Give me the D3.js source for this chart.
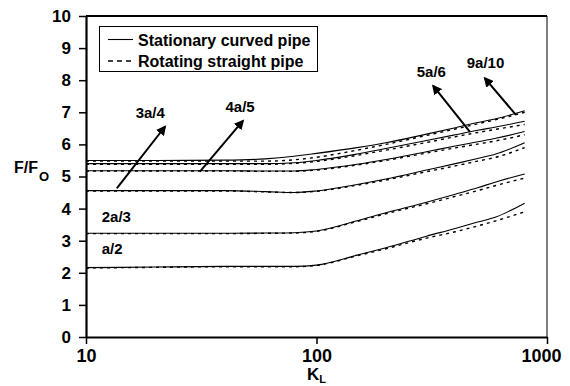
<!DOCTYPE html>
<html>
<head>
<meta charset="utf-8">
<script src="https://cdn.jsdelivr.net/npm/d3@7"></script>
<style>
  body { margin: 0; background: #fff; }
  svg { display: block; font-family: Arial, "Liberation Sans", sans-serif; }
  .tick text { font-weight: bold; fill: #000; }
</style>
</head>
<body>
<svg id="chart" width="570" height="386"></svg>
<script>
// Friction ratio F/Fo against K_L for several a-ratios
const kValues = [10, 20, 40, 60, 80, 100, 150, 200, 300, 400, 500, 600, 800];

const ratioNames = ["a/2", "2a/3", "3a/4", "4a/5", "5a/6", "9a/10"];

// Stationary curved pipe (solid)
const curvedA2   = [2.16, 2.18, 2.20, 2.20, 2.20, 2.24, 2.55, 2.78, 3.14, 3.38, 3.58, 3.74, 4.17];
const curved2A3  = [3.23, 3.23, 3.23, 3.24, 3.25, 3.30, 3.62, 3.87, 4.20, 4.45, 4.65, 4.83, 5.08];
const curved3A4  = [4.56, 4.56, 4.56, 4.53, 4.50, 4.55, 4.75, 4.92, 5.20, 5.40, 5.56, 5.70, 6.05];
const curved4A5  = [5.18, 5.18, 5.18, 5.17, 5.17, 5.22, 5.38, 5.53, 5.77, 5.95, 6.08, 6.19, 6.40];
const curved5A6  = [5.40, 5.40, 5.40, 5.40, 5.43, 5.50, 5.70, 5.87, 6.12, 6.30, 6.44, 6.54, 6.72];
const curved9A10 = [5.50, 5.50, 5.51, 5.55, 5.63, 5.72, 5.90, 6.05, 6.32, 6.52, 6.68, 6.80, 7.05];

// Rotating straight pipe (dashed)
const rotatingA2   = [2.15, 2.17, 2.19, 2.19, 2.19, 2.23, 2.53, 2.75, 3.08, 3.28, 3.46, 3.62, 3.90];
const rotating2A3  = [3.22, 3.22, 3.22, 3.23, 3.24, 3.29, 3.60, 3.84, 4.15, 4.38, 4.56, 4.72, 4.95];
const rotating3A4  = [4.55, 4.55, 4.55, 4.52, 4.50, 4.54, 4.73, 4.89, 5.15, 5.33, 5.48, 5.60, 5.90];
const rotating4A5  = [5.17, 5.17, 5.17, 5.16, 5.16, 5.20, 5.36, 5.50, 5.73, 5.89, 6.01, 6.11, 6.30];
const rotating5A6  = [5.38, 5.38, 5.38, 5.38, 5.41, 5.47, 5.66, 5.82, 6.06, 6.24, 6.37, 6.47, 6.62];
const rotating9A10 = [5.48, 5.48, 5.48, 5.48, 5.52, 5.60, 5.82, 6.00, 6.28, 6.48, 6.64, 6.77, 7.00];

const curvedSeries   = [curvedA2, curved2A3, curved3A4, curved4A5, curved5A6, curved9A10];
const rotatingSeries = [rotatingA2, rotating2A3, rotating3A4, rotating4A5, rotating5A6, rotating9A10];

const xTicks = [10, 100, 1000];
const yTicks = [0, 1, 2, 3, 4, 5, 6, 7, 8, 9, 10];

const legendLabels = ["Stationary curved pipe", "Rotating straight pipe"];

// Plain curve labels, in data units [K, F/Fo]
const plainLabels = [
  { text: "2a/3", k: 11.7, v: 3.59 },
  { text: "a/2",  k: 11.7, v: 2.58 }
];
// Labels with pointer arrows, in data units
const arrowLabels = [
  { text: "3a/4",  k: 19.0, v: 6.81, from: [13.6, 4.63], to: [22.0, 6.55] },
  { text: "4a/5",  k: 46.6, v: 7.01, from: [31.2, 5.15], to: [47.9, 6.73] },
  { text: "5a/6",  k: 315,  v: 8.11, from: [463, 6.39],  to: [321, 7.82] },
  { text: "9a/10", k: 541,  v: 8.37, from: [733, 6.92],  to: [538, 8.06] }
];

const svg = d3.select("#chart");
const margin = { left: 86, right: 23, top: 16, bottom: 49 };
const W = 570, H = 386;

const x = d3.scaleLog().domain([10, 1000]).range([margin.left, W - margin.right]);
const y = d3.scaleLinear().domain([0, 10]).range([H - margin.bottom, margin.top]);

// frame: thin right edge, heavy top
svg.append("line").attr("x1", x(1000)).attr("x2", x(1000))
  .attr("y1", y(10)).attr("y2", y(0)).attr("stroke", "#000").attr("stroke-width", 1);
svg.append("line").attr("x1", x(10)).attr("x2", x(1000))
  .attr("y1", y(10)).attr("y2", y(10)).attr("stroke", "#000").attr("stroke-width", 2);

// axes
const xAxis = svg.append("g").attr("transform", `translate(0,${y(0)})`)
  .call(d3.axisBottom(x).tickValues(xTicks).tickFormat(d3.format("d"))
    .tickSize(7).tickSizeOuter(0).tickPadding(5));
const yAxis = svg.append("g").attr("transform", `translate(${x(10)},0)`)
  .call(d3.axisLeft(y).tickValues(yTicks).tickFormat(d3.format("d"))
    .tickSize(7).tickSizeOuter(0).tickPadding(8));
[xAxis, yAxis].forEach(g => {
  g.select(".domain").attr("stroke", "#000").attr("stroke-width", 2.2);
  g.selectAll(".tick line").attr("stroke", "#000").attr("stroke-width", 1.5);
});
xAxis.selectAll(".tick text").attr("font-size", 18);
yAxis.selectAll(".tick text").attr("font-size", 17);
xAxis.selectAll(".tick text").filter(d => d === 1000).attr("dx", -6);

// curves
const line = d3.line()
  .x((d, i) => x(kValues[i]))
  .y(d => y(d))
  .curve(d3.curveMonotoneX);

const plot = svg.append("g");
rotatingSeries.forEach(vals => {
  plot.append("path").attr("d", line(vals))
    .attr("fill", "none").attr("stroke", "#000")
    .attr("stroke-width", 1.4).attr("stroke-dasharray", "3,4");
});
curvedSeries.forEach(vals => {
  plot.append("path").attr("d", line(vals))
    .attr("fill", "none").attr("stroke", "#000").attr("stroke-width", 1.1);
});

// legend
const lg = svg.append("g");
lg.append("rect").attr("x", 99.5).attr("y", 26.5).attr("width", 218).attr("height", 45)
  .attr("fill", "#fff").attr("stroke", "#000").attr("stroke-width", 1);
legendLabels.forEach((t, i) => {
  const ly = 39.5 + i * 21.5;
  lg.append("line").attr("x1", 108).attr("x2", 133).attr("y1", ly).attr("y2", ly)
    .attr("stroke", "#000").attr("stroke-width", i === 0 ? 1.1 : 1.6)
    .attr("stroke-dasharray", i === 0 ? null : "5,4");
  lg.append("text").attr("x", 138).attr("y", ly + 6)
    .attr("font-size", 16).attr("font-weight", "bold").text(t);
});

// arrow head
svg.append("defs").append("marker")
  .attr("id", "head").attr("viewBox", "0 0 10 10").attr("refX", 8).attr("refY", 5)
  .attr("markerWidth", 5).attr("markerHeight", 5).attr("orient", "auto")
  .append("path").attr("d", "M0,0 L10,5 L0,10 z").attr("fill", "#000");

arrowLabels.forEach(a => {
  svg.append("line")
    .attr("x1", x(a.from[0])).attr("y1", y(a.from[1]))
    .attr("x2", x(a.to[0])).attr("y2", y(a.to[1]))
    .attr("stroke", "#000").attr("stroke-width", 2).attr("marker-end", "url(#head)");
  svg.append("text").attr("x", x(a.k)).attr("y", y(a.v))
    .attr("text-anchor", "middle").attr("font-size", 15).attr("font-weight", "bold").text(a.text);
});
plainLabels.forEach(a => {
  svg.append("text").attr("x", x(a.k)).attr("y", y(a.v))
    .attr("font-size", 15).attr("font-weight", "bold").text(a.text);
});

// axis titles
const yt = svg.append("text").attr("x", 14).attr("y", 173)
  .attr("font-size", 16).attr("font-weight", "bold");
yt.append("tspan").text("F/F");
yt.append("tspan").attr("font-size", 13).attr("dy", 8).attr("dx", 1).text("O");

const xt = svg.append("text").attr("x", 307).attr("y", 380)
  .attr("font-size", 17).attr("font-weight", "bold");
xt.append("tspan").text("K");
xt.append("tspan").attr("font-size", 11).attr("dy", 3).text("L");
</script>
</body>
</html>
